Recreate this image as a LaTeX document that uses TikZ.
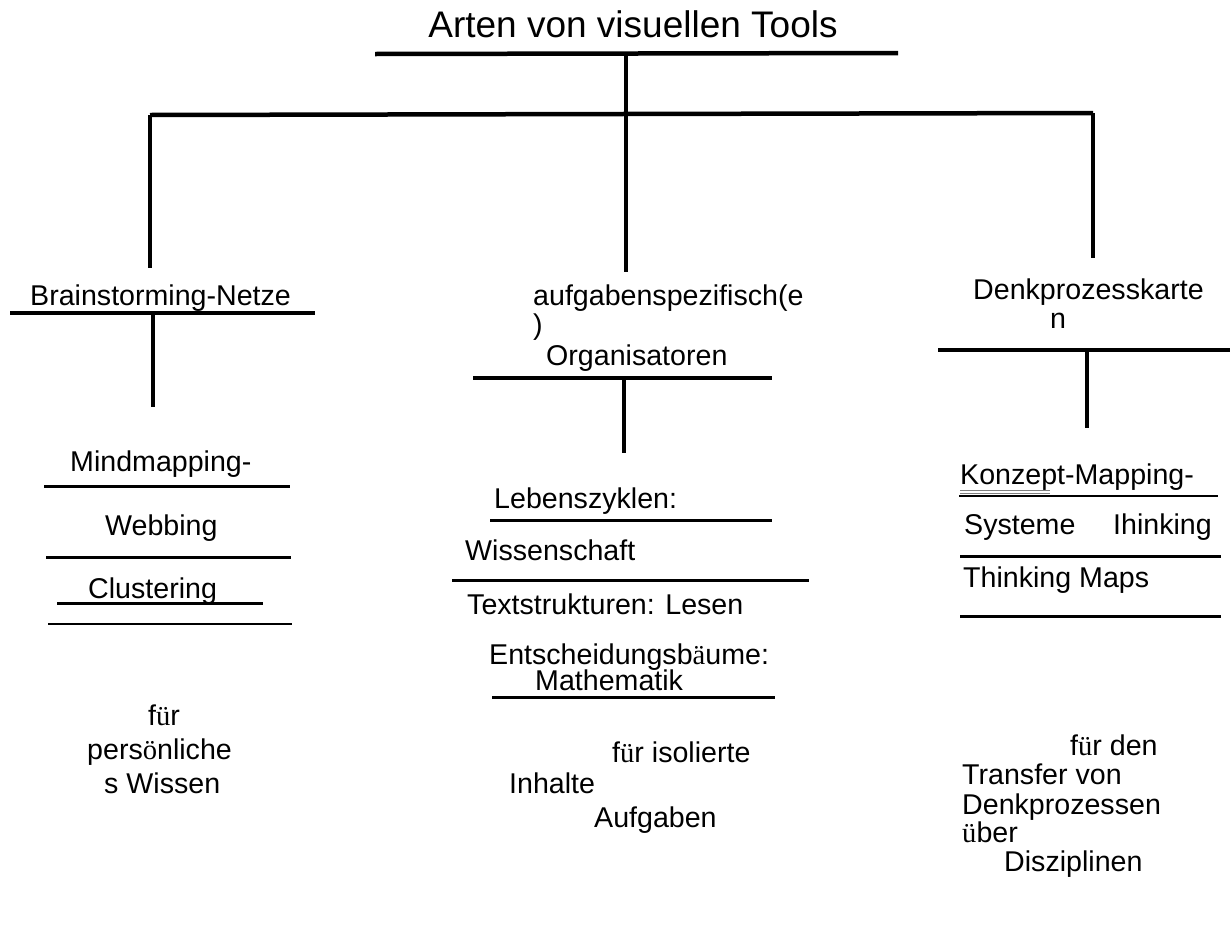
\documentclass[tikz,border=0pt]{standalone}
\usepackage{fontspec}
\setmainfont{Liberation Sans}
\newfontfamily\umlfont{Liberation Serif}
\newcommand{\uml}[1]{{\umlfont #1}}
\usetikzlibrary{positioning}

\begin{document}
\begin{tikzpicture}[x=1pt, y=-1pt,
  lbl/.style={anchor=base west, inner sep=0pt, font=\fontsize{28.6}{34}\selectfont},
  ttl/.style={anchor=base, inner sep=0pt, font=\fontsize{37}{42}\selectfont},
  tree/.style={line width=4.5pt},
  rule/.style={line width=3pt},
  thin/.style={line width=1.6pt}
]
  \useasboundingbox (0,0) rectangle (1230,924);

  % Title and main tree
  \node[ttl] (title) at (633,37) {Arten von visuellen Tools};
  \coordinate (tl) at (375,54);
  \coordinate (tr) at (898,53);
  \coordinate (tj) at (626,54);
  \coordinate (bl) at (150,115);
  \coordinate (br) at (1093,113);
  \draw[tree] (tl) -- (tr);
  \draw[tree] (bl) -- (br);
  \draw[tree] (tj) -- (626,272) coordinate (tmid);
  \draw[tree] (bl) -- (150,268) coordinate (tleft);
  \draw[tree] (br) -- (1093,258) coordinate (tright);

  % Brainstorming-Netze
  \node[lbl] (brain) at (30,305) {Brainstorming-Netze};
  \draw[tree] (10,313) coordinate (brl) -- (315,313);
  \draw[tree] (153,313) coordinate (brj) -- (153,407) coordinate (brs);

  % aufgabenspezifische Organisatoren
  \node[lbl] (task) at (533,305) {aufgabenspezifisch(e};
  \node[lbl] (task2) at (533,334) {)};
  \node[lbl] (task3) at (546,365) {Organisatoren};
  \draw[tree] (473,378) coordinate (tkl) -- (772,378);
  \draw[tree] (624,378) coordinate (tkj) -- (624,453) coordinate (tks);

  % Denkprozesskarten
  \node[lbl] (think) at (973,299) {Denkprozesskarte};
  \node[lbl] (think2) at (1050,328) {n};
  \draw[tree] (938,350) coordinate (thl) -- (1230,350);
  \draw[tree] (1087,350) coordinate (thj) -- (1087,428) coordinate (ths);

  % left column
  \node[lbl] (mind) at (70,471) {Mindmapping-};
  \draw[rule] (44,486) -- (290,486);
  \node[lbl] (web) at (105,535) {Webbing};
  \draw[rule] (46,557) -- (291,557);
  \node[lbl] (clus) at (88,598) {Clustering};
  \draw[rule] (57,603) -- (263,603);
  \draw[thin] (48,624) -- (292,624);
  \node[lbl] (pers1) at (148,725) {f\uml{ü}r};
  \node[lbl] (pers2) at (87,759) {pers\uml{ö}nliche};
  \node[lbl] (pers3) at (104,793) {s Wissen};

  % middle column
  \node[lbl] (life) at (494,508) {Lebenszyklen:};
  \draw[rule] (490,520) -- (772,520);
  \node[lbl] (sci) at (465,560) {Wissenschaft};
  \draw[rule] (452,580) -- (809,580);
  \node[lbl] (text) at (467,614) {Textstrukturen: Lesen};
  \node[lbl] (dec) at (489,664) {Entscheidungsb\uml{ä}ume:};
  \node[lbl] (math) at (535,690) {Mathematik};
  \draw[rule] (492,697) -- (775,697);
  \node[lbl] (iso1) at (612,762) {f\uml{ü}r isolierte};
  \node[lbl] (iso2) at (509,793) {Inhalte};
  \node[lbl] (iso3) at (594,827) {Aufgaben};

  % right column
  \node[lbl] (conc) at (960,484) {Konzept-Mapping-};
  \draw[line width=0.8pt, gray] (960,490) -- (1050,490);
  \draw[line width=0.8pt, gray] (960,493) -- (1050,493);
  \draw[rule, line width=2pt] (959,496) -- (1218,496);
  \node[lbl] (sys1) at (964,534) {Systeme};
  \node[lbl] (sys2) at (1113,534) {Ihinking};
  \draw[rule] (960,556) -- (1221,556);
  \node[lbl] (maps) at (963,587) {Thinking Maps};
  \draw[rule] (960,616) -- (1221,616);
  \node[lbl] (tr1) at (1070,755) {f\uml{ü}r den};
  \node[lbl] (tr2) at (962,784) {Transfer von};
  \node[lbl] (tr3) at (962,814) {Denkprozessen};
  \node[lbl] (tr4) at (962,842) {\uml{ü}ber};
  \node[lbl] (tr5) at (1004,871) {Disziplinen};
\end{tikzpicture}
\end{document}
